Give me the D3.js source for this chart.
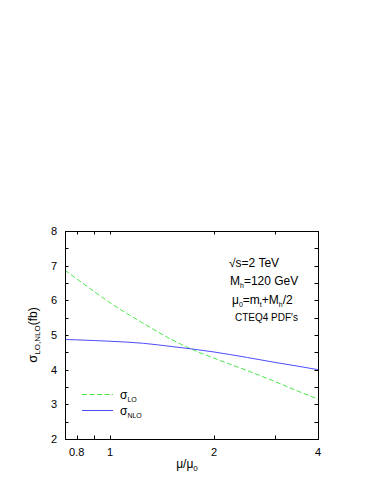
<!DOCTYPE html>
<meta charset="utf-8">
<head>
    <title></title>
    <script src="https://cdn.jsdelivr.net/npm/d3@7"></script>
</head>
<style>
    body{ margin:0; background:#fff; }
    text{ font-family: "Liberation Sans", Arial, sans-serif; font-size:11px; fill:#000; }
</style>
<svg width="383" height="495"></svg>
<script>
    var mu    = [0.74, 0.8, 0.9, 1.0, 1.25, 1.5, 1.75, 2.0, 2.5, 3.0, 3.5, 4.0];
    var sigLO  = [6.87, 6.62, 6.25, 5.93, 5.33, 4.88, 4.56, 4.33, 3.97, 3.66, 3.38, 3.15];
    var sigNLO = [4.87, 4.86, 4.84, 4.82, 4.76, 4.67, 4.59, 4.51, 4.35, 4.21, 4.10, 4.00];
    var xTicks = [0.8, 0.9, 1, 2, 3, 4];
    var xLabels = [0.8, 1, 2, 4];
    var yTicks = [2, 2.5, 3, 3.5, 4, 4.5, 5, 5.5, 6, 6.5, 7, 7.5, 8];

    var pLeft = 65, pRight = 318, pTop = 231, pBottom = 439;
    var green = '#4de84d', blue = '#4d4dff';

    var x = d3.scaleLog().domain([0.74, 4]).range([pLeft, pRight]);
    var y = d3.scaleLinear().domain([2, 8]).range([pBottom, pTop]);

    var svg = d3.select('svg');
    var g = svg.append('g');

    // ticks, inside on all four sides
    var tl = 3.5;
    xTicks.forEach(function(t){
        var px = Math.round(x(t)) + 0.5;
        g.append('line').attr('x1',px).attr('x2',px).attr('y1',pBottom).attr('y2',pBottom-tl).attr('stroke','#000');
        g.append('line').attr('x1',px).attr('x2',px).attr('y1',pTop).attr('y2',pTop+tl).attr('stroke','#000');
    });
    yTicks.forEach(function(t){
        var py = Math.round(y(t)) + 0.5;
        g.append('line').attr('x1',pLeft).attr('x2',pLeft+tl).attr('y1',py).attr('y2',py).attr('stroke','#000');
        g.append('line').attr('x1',pRight).attr('x2',pRight-tl).attr('y1',py).attr('y2',py).attr('stroke','#000');
    });

    g.selectAll('.xl').data(xLabels).enter().append('text')
        .attr('x', function(d){ return x(d); })
        .attr('y', pBottom + 17)
        .attr('text-anchor','middle')
        .text(function(d){ return d; });
    g.selectAll('.yl').data(yTicks.filter(function(d){ return d % 1 === 0; })).enter().append('text')
        .attr('x', pLeft - 8)
        .attr('y', function(d){ return y(d) + 4; })
        .attr('text-anchor','end')
        .text(function(d){ return d; });

    // curves
    var line = d3.line()
        .x(function(d){ return x(d[0]); })
        .y(function(d){ return y(d[1]); })
        .curve(d3.curveMonotoneX);

    g.append('path').datum(d3.zip(mu, sigLO))
        .attr('d', line).attr('fill','none')
        .attr('stroke',green).attr('stroke-width',1)
        .attr('stroke-dasharray','5,2.5');
    g.append('path').datum(d3.zip(mu, sigNLO))
        .attr('d', line).attr('fill','none')
        .attr('stroke',blue).attr('stroke-width',1);

    // frame
    g.append('rect').attr('x',pLeft+0.5).attr('y',pTop+0.5)
        .attr('width',pRight-pLeft).attr('height',pBottom-pTop)
        .attr('fill','none').attr('stroke','#000');

    // axis titles
    var yt = g.append('text')
        .attr('transform','translate(37,' + ((pTop+pBottom)/2) + ') rotate(-90)')
        .attr('text-anchor','middle');
    yt.append('tspan').style('font-size','13px').text('σ');
    yt.append('tspan').attr('dy',3).style('font-size','8px').text('LO,NLO');
    yt.append('tspan').attr('dy',-3).style('font-size','12px').text('(fb)');

    var xt = g.append('text').attr('x',187).attr('y',468).attr('text-anchor','middle');
    xt.append('tspan').style('font-size','12px').text('μ/μ');
    xt.append('tspan').attr('dy',3).style('font-size','8px').text('0');

    // annotations
    g.append('text').attr('x',229).attr('y',267).style('font-size','12px').text('√s=2 TeV');
    var m = g.append('text').attr('x',230).attr('y',285).style('font-size','12px');
    m.append('tspan').text('M');
    m.append('tspan').attr('dy',3).style('font-size','7px').text('h');
    m.append('tspan').attr('dy',-3).text('=120 GeV');
    var mu0 = g.append('text').attr('x',232).attr('y',304).style('font-size','12px');
    mu0.append('tspan').text('μ');
    mu0.append('tspan').attr('dy',3).style('font-size','7px').text('0');
    mu0.append('tspan').attr('dy',-3).text('=m');
    mu0.append('tspan').attr('dy',3).style('font-size','7px').text('t');
    mu0.append('tspan').attr('dy',-3).text('+M');
    mu0.append('tspan').attr('dy',3).style('font-size','7px').text('h');
    mu0.append('tspan').attr('dy',-3).text('/2');
    g.append('text').attr('x',235).attr('y',321).style('font-size','10px').text("CTEQ4 PDF's");

    // legend
    var legend = [
        {label:'LO', color:green, dash:'5,2.5', y:394.5},
        {label:'NLO', color:blue, dash:null, y:410.5}
    ];
    legend.forEach(function(l){
        g.append('line').attr('x1',82).attr('x2',113).attr('y1',l.y).attr('y2',l.y)
            .attr('stroke',l.color).attr('stroke-dasharray',l.dash);
        var t = g.append('text').attr('x',120).attr('y',l.y+4);
        t.append('tspan').style('font-size','12px').text('σ');
        t.append('tspan').attr('dy',3).style('font-size','7px').text(l.label);
    });
</script>
